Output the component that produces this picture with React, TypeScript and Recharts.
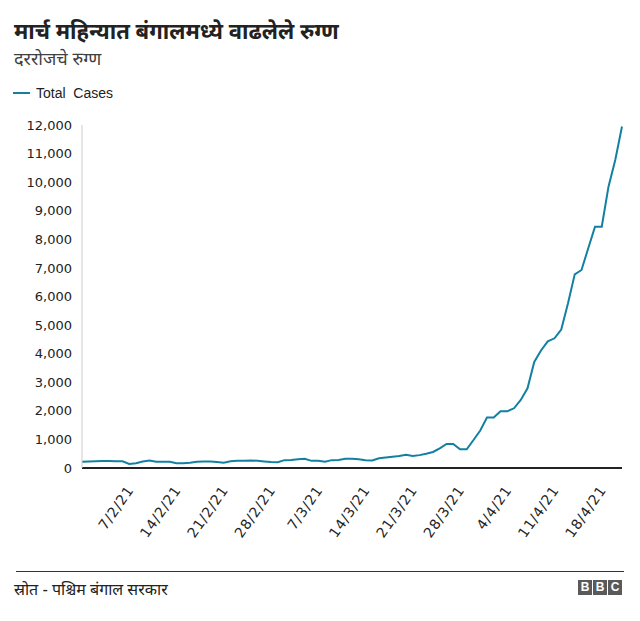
import { LineChart, Line, XAxis, YAxis } from 'recharts'

// one entry per day, 31/1/21 to 21/4/21
const dates = [
  '31/1/21',
  '1/2/21', '2/2/21', '3/2/21', '4/2/21', '5/2/21', '6/2/21', '7/2/21',
  '8/2/21', '9/2/21', '10/2/21', '11/2/21', '12/2/21', '13/2/21', '14/2/21',
  '15/2/21', '16/2/21', '17/2/21', '18/2/21', '19/2/21', '20/2/21', '21/2/21',
  '22/2/21', '23/2/21', '24/2/21', '25/2/21', '26/2/21', '27/2/21', '28/2/21',
  '1/3/21', '2/3/21', '3/3/21', '4/3/21', '5/3/21', '6/3/21', '7/3/21',
  '8/3/21', '9/3/21', '10/3/21', '11/3/21', '12/3/21', '13/3/21', '14/3/21',
  '15/3/21', '16/3/21', '17/3/21', '18/3/21', '19/3/21', '20/3/21', '21/3/21',
  '22/3/21', '23/3/21', '24/3/21', '25/3/21', '26/3/21', '27/3/21', '28/3/21',
  '29/3/21', '30/3/21', '31/3/21', '1/4/21', '2/4/21', '3/4/21', '4/4/21',
  '5/4/21', '6/4/21', '7/4/21', '8/4/21', '9/4/21', '10/4/21', '11/4/21',
  '12/4/21', '13/4/21', '14/4/21', '15/4/21', '16/4/21', '17/4/21', '18/4/21',
  '19/4/21', '20/4/21', '21/4/21',
]

const totalCases = [
  220,
  230, 240, 245, 245, 240, 235, 140,
  170, 230, 265, 220, 220, 215, 165,
  165, 180, 220, 225, 225, 210, 185,
  235, 250, 255, 265, 255, 230, 210,
  205, 275, 280, 310, 325, 250, 255,
  220, 275, 280, 320, 325, 305, 270,
  260, 340, 370, 395, 420, 460, 420,
  450, 500, 560, 690, 840, 840, 654,
  654, 980, 1312, 1767, 1767, 1984, 1984,
  2089, 2379, 2789, 3709, 4111, 4433, 4538,
  4846, 5763, 6777, 6928, 7687, 8443, 8443,
  9843, 10777, 11950,
]

const xTicks = ['7/2/21', '14/2/21', '21/2/21', '28/2/21', '7/3/21', '14/3/21', '21/3/21', '28/3/21', '4/4/21', '11/4/21', '18/4/21']
const yTicks = [0, 1000, 2000, 3000, 4000, 5000, 6000, 7000, 8000, 9000, 10000, 11000, 12000]

const data = dates.map((d, i) => ({ date: d, cases: totalCases[i] }))

const LINE = '#1380A1'
const DEVA = '"Noto Sans Devanagari", "Lohit Devanagari", "FreeSans", "Noto Sans", sans-serif'
const LATIN = '"Liberation Sans", Arial, sans-serif'

function DateTick({ x, y, payload }: any) {
  const ax = x + 5
  const ay = y + 14
  return (
    <text
      x={ax}
      y={ay}
      transform={`rotate(-55 ${ax} ${ay})`}
      textAnchor="end"
      fontSize={14}
      fill="#222"
      fontFamily="DejaVu Sans"
      letterSpacing={0.8}
    >
      {payload.value}
    </text>
  )
}

function BbcLogo() {
  return (
    <div style={{ position: 'absolute', left: 578, top: 580, display: 'flex', gap: 1 }}>
      {['B', 'B', 'C'].map((c, i) => (
        <div
          key={i}
          style={{
            width: 14,
            height: 15,
            background: '#5a5a5a',
            color: '#fff',
            fontFamily: LATIN,
            fontWeight: 700,
            fontSize: 12,
            lineHeight: '15px',
            textAlign: 'center',
          }}
        >
          {c}
        </div>
      ))}
    </div>
  )
}

export default function App() {
  return (
    <div style={{ position: 'absolute', left: 0, top: 0, width: 640, height: 621, background: '#fff' }}>
      <div style={{ position: 'absolute', left: 14, top: 19, fontFamily: DEVA, fontWeight: 700, fontSize: 22, color: '#222', lineHeight: '30px' }}>
        मार्च महिन्यात बंगालमध्ये वाढलेले रुग्ण
      </div>
      <div style={{ position: 'absolute', left: 14, top: 48, fontFamily: DEVA, fontSize: 18, color: '#404040', lineHeight: '26px' }}>
        दररोजचे रुग्ण
      </div>
      <div style={{ position: 'absolute', left: 13, top: 84, display: 'flex', alignItems: 'center', fontFamily: LATIN, fontSize: 14, color: '#222' }}>
        <span style={{ display: 'inline-block', width: 17, height: 2, background: LINE, marginRight: 6 }} />
        <span style={{ lineHeight: '18px', whiteSpace: 'pre' }}>Total  Cases</span>
      </div>

      <div style={{ position: 'absolute', left: 0, top: 0 }}>
        <LineChart width={640} height={560} data={data} margin={{ top: 125, right: 18, bottom: 0, left: 0 }}>
          <XAxis
            dataKey="date"
            scale="point"
            ticks={xTicks}
            interval={0}
            height={92}
            tickLine={false}
            axisLine={{ stroke: '#222', strokeWidth: 2 }}
            tick={<DateTick />}
          />
          <YAxis
            domain={[0, 12000]}
            ticks={yTicks}
            width={82}
            tickLine={false}
            tickMargin={4}
            axisLine={{ stroke: '#cccccc', strokeWidth: 1 }}
            tickFormatter={(v: number) => v.toLocaleString('en-US')}
            tick={{ fontSize: 13, fill: '#222', fontFamily: 'DejaVu Sans' }}
          />
          <Line
            type="linear"
            dataKey="cases"
            name="Total Cases"
            stroke={LINE}
            strokeWidth={2}
            dot={false}
            activeDot={false}
            isAnimationActive={false}
          />
        </LineChart>
      </div>

      <div style={{ position: 'absolute', left: 16, top: 571, width: 608, height: 1, background: '#333' }} />
      <div style={{ position: 'absolute', left: 14, top: 580, fontFamily: DEVA, fontSize: 16, color: '#222', lineHeight: '24px' }}>
        स्रोत - पश्चिम बंगाल सरकार
      </div>
      <BbcLogo />
    </div>
  )
}
